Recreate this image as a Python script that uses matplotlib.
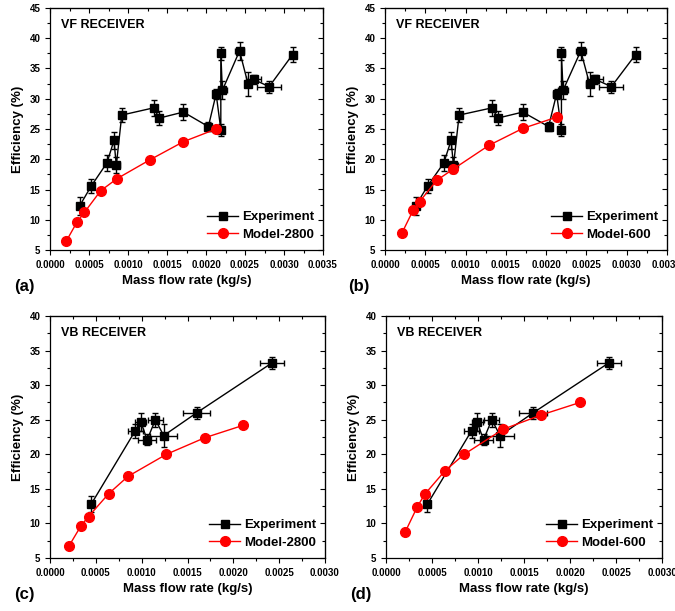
import numpy as np
import matplotlib
matplotlib.use("Agg")
import matplotlib.pyplot as plt
from matplotlib.ticker import MultipleLocator, FormatStrFormatter
from matplotlib.lines import Line2D

plt.rcParams['font.family'] = ['Liberation Sans', 'DejaVu Sans']
plt.rcParams['font.weight'] = 'bold'

# ---- VF receiver, experiment ----
vf_exp_x = [0.00038, 0.00053, 0.00073, 0.00082, 0.00085, 0.00092, 0.00133, 0.00140,
            0.00171, 0.00203, 0.00213, 0.00219, 0.00219, 0.00221, 0.00243, 0.00254,
            0.00261, 0.00281, 0.00311]
vf_exp_y = [12.3, 15.6, 19.4, 23.1, 19.0, 27.3, 28.5, 26.8, 27.8, 25.4, 30.8, 24.9,
            37.5, 31.4, 37.9, 32.4, 33.2, 32.0, 37.3]
vf_exp_xerr = [0.00002, 0.00002, 0.00003, 0.00002, 0.00005, 0.00003, 0.00003, 0.00003,
               0.00003, 0.00003, 0.00004, 0.00003, 0.00004, 0.00006, 0.00006, 0.00004,
               0.00010, 0.00015, 0.00003]
vf_exp_yerr = [1.5, 1.2, 1.3, 1.4, 1.3, 1.2, 1.3, 1.2, 1.3, 0.7, 0.8, 1.0, 1.1, 1.5,
               1.5, 2.0, 0.7, 1.0, 1.3]

# ---- VF receiver, models ----
vf_m2800_x = [0.00021, 0.00035, 0.00044, 0.00065, 0.00086, 0.00128, 0.00171, 0.00213]
vf_m2800_y = [6.5, 9.7, 11.2, 14.8, 16.8, 19.9, 22.9, 25.0]
vf_m600_x = [0.00021, 0.00035, 0.00043, 0.00064, 0.00085, 0.00129, 0.00171, 0.00214]
vf_m600_y = [7.8, 11.6, 13.0, 16.5, 18.4, 22.3, 25.1, 27.0]

# ---- VB receiver, experiment ----
vb_exp_x = [0.00045, 0.00093, 0.00099, 0.00106, 0.00115, 0.00124, 0.00160, 0.00242]
vb_exp_y = [12.8, 23.4, 24.7, 22.1, 25.0, 22.7, 26.0, 33.2]
vb_exp_xerr = [0.00002, 0.00008, 0.00006, 0.00010, 0.00008, 0.00015, 0.00015, 0.00013]
vb_exp_yerr = [1.2, 1.0, 1.3, 0.8, 1.0, 1.7, 0.9, 0.9]

# ---- VB receiver, models ----
vb_m2800_x = [0.00021, 0.00034, 0.00042, 0.00064, 0.00085, 0.00127, 0.00169, 0.00211]
vb_m2800_y = [6.8, 9.7, 11.0, 14.3, 16.8, 20.0, 22.4, 24.2]
vb_m600_x = [0.00021, 0.00034, 0.00042, 0.00064, 0.00085, 0.00127, 0.00169, 0.00211]
vb_m600_y = [8.8, 12.4, 14.2, 17.6, 20.0, 23.6, 25.7, 27.5]

W, H = 675, 611
fig = plt.figure(figsize=(W / 100, H / 100), dpi=100)


def make_ax(left, top, right, bottom):
    return fig.add_axes([left / W, 1 - bottom / H, (right - left) / W, (bottom - top) / H])


def draw_panel(ax, ex, ey, exe, eye, mx, my, mlabel, title, xmax, ymax, letter):
    ax.errorbar(ex, ey, xerr=exe, yerr=eye, color='black', marker='s', ms=6,
                lw=1, elinewidth=1, capsize=2, capthick=1, zorder=3)
    ax.plot(mx, my, color='red', marker='o', ms=7, lw=1, zorder=4)
    ax.set_xlim(0, xmax)
    ax.set_ylim(5, ymax)
    ax.xaxis.set_major_locator(MultipleLocator(0.0005))
    ax.xaxis.set_minor_locator(MultipleLocator(0.00025))
    ax.yaxis.set_major_locator(MultipleLocator(5))
    ax.yaxis.set_minor_locator(MultipleLocator(2.5))
    ax.xaxis.set_major_formatter(FormatStrFormatter('%.4f'))
    ax.tick_params(which='both', direction='out', labelsize=7, width=0.8)
    ax.tick_params(which='major', length=3.5)
    ax.tick_params(which='minor', length=2)
    for lab in ax.get_xticklabels() + ax.get_yticklabels():
        lab.set_fontweight('bold')
    # mirrored inward ticks on top and right
    top = ax.secondary_xaxis('top')
    top.xaxis.set_major_locator(MultipleLocator(0.0005))
    top.xaxis.set_minor_locator(MultipleLocator(0.00025))
    top.tick_params(which='both', direction='in', labeltop=False, width=0.8)
    top.tick_params(which='major', length=3.5)
    top.tick_params(which='minor', length=2)
    right = ax.secondary_yaxis('right')
    right.yaxis.set_major_locator(MultipleLocator(5))
    right.yaxis.set_minor_locator(MultipleLocator(2.5))
    right.tick_params(which='both', direction='in', labelright=False, width=0.8)
    right.tick_params(which='major', length=3.5)
    right.tick_params(which='minor', length=2)
    for s in ax.spines.values():
        s.set_linewidth(0.9)
    ax.set_xlabel('Mass flow rate (kg/s)', fontsize=9.5, fontweight='bold', labelpad=4)
    ax.set_ylabel('Efficiency (%)', fontsize=9.5, fontweight='bold')
    ax.text(0.04, 0.93, title, transform=ax.transAxes, fontsize=9, fontweight='bold',
            va='center', ha='left')
    handles = [Line2D([], [], color='black', marker='s', ms=6, lw=1),
               Line2D([], [], color='red', marker='o', ms=7, lw=1)]
    leg = ax.legend(handles, ['Experiment', mlabel], loc='lower right', frameon=False,
                    fontsize=9.5, handlelength=2.3, borderaxespad=0.3,
                    labelspacing=0.4, handletextpad=0.3)
    for t in leg.get_texts():
        t.set_fontweight('bold')
    ax.text(-0.13, -0.15, letter, transform=ax.transAxes, fontsize=12,
            fontweight='bold', va='center', ha='left')


ax_a = make_ax(50, 8, 323, 250)
draw_panel(ax_a, vf_exp_x, vf_exp_y, vf_exp_xerr, vf_exp_yerr, vf_m2800_x, vf_m2800_y,
           'Model-2800', 'VF RECEIVER', 0.0035, 45, '(a)')
ax_b = make_ax(385, 8, 667, 250)
draw_panel(ax_b, vf_exp_x, vf_exp_y, vf_exp_xerr, vf_exp_yerr, vf_m600_x, vf_m600_y,
           'Model-600', 'VF RECEIVER', 0.0035, 45, '(b)')
ax_c = make_ax(50, 316, 325, 558)
draw_panel(ax_c, vb_exp_x, vb_exp_y, vb_exp_xerr, vb_exp_yerr, vb_m2800_x, vb_m2800_y,
           'Model-2800', 'VB RECEIVER', 0.0030, 40, '(c)')
ax_d = make_ax(386, 316, 662, 558)
draw_panel(ax_d, vb_exp_x, vb_exp_y, vb_exp_xerr, vb_exp_yerr, vb_m600_x, vb_m600_y,
           'Model-600', 'VB RECEIVER', 0.0030, 40, '(d)')

fig.savefig('out.png', dpi=100)
